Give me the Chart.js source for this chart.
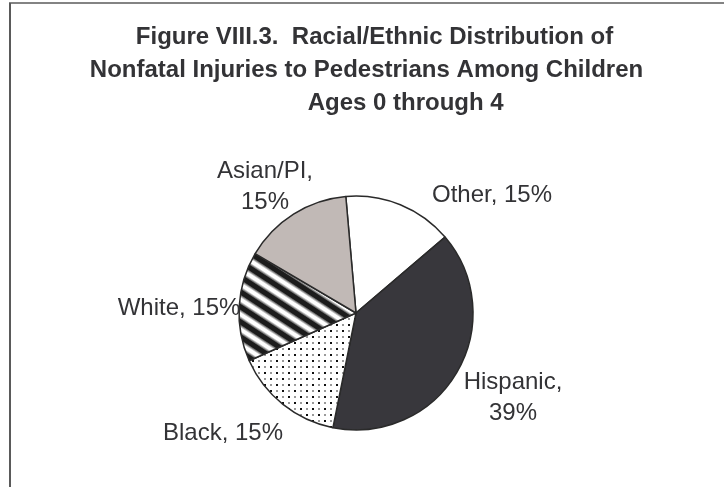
<!DOCTYPE html>
<html>
<head>
<meta charset="utf-8">
<script src="https://cdn.jsdelivr.net/npm/chart.js@4/dist/chart.umd.min.js"></script>
<style>
  html, body { margin: 0; padding: 0; background: #ffffff; }
  #wrap { width: 724px; height: 487px; position: relative; }
</style>
</head>
<body>
<div id="wrap"><canvas id="c" width="724" height="487"></canvas></div>
<script>
// ---- data ----
const categories = ["Other", "Hispanic", "Black", "White", "Asian/PI"];
const percentages = [15, 39, 15, 15, 15];
const labelLines = [
  ["Other, 15%"],
  ["Hispanic,", "39%"],
  ["Black, 15%"],
  ["White, 15%"],
  ["Asian/PI,", "15%"]
];
const titleLines = [
  "Figure VIII.3.  Racial/Ethnic Distribution of",
  "Nonfatal Injuries to Pedestrians Among Children",
  "Ages 0 through 4"
];

// ---- styling / layout ----
const TEXT = "#333336";
const titleLayout = [ {cx: 374.5, y: 44}, {cx: 366.5, y: 77}, {cx: 405.7, y: 110} ];
// label offsets relative to the pie centre (first-line baseline)
const labelOffsets = [
  {dx: 136, dy: -111},
  {dx: 157, dy: 76},
  {dx: -133, dy: 127},
  {dx: -177, dy: 2},
  {dx: -91, dy: -135}
];
const LABEL_LINE_H = 31;

const canvas = document.getElementById('c');
const ctx = canvas.getContext('2d');

function dotPattern() {
  const s = 12;
  const c = document.createElement('canvas'); c.width = s; c.height = s;
  const x = c.getContext('2d');
  x.fillStyle = '#ffffff'; x.fillRect(0, 0, s, s);
  x.fillStyle = '#111111';
  x.fillRect(0, 0, 2, 2); x.fillRect(6, 6, 2, 2);
  x.fillStyle = '#9a9a9a';
  x.fillRect(6, 0, 2, 2); x.fillRect(0, 6, 2, 2);
  return ctx.createPattern(c, 'repeat');
}
function stripePattern() {
  const W = 23, H = 15;
  const c = document.createElement('canvas'); c.width = W; c.height = H;
  const x = c.getContext('2d');
  x.fillStyle = '#ffffff'; x.fillRect(0, 0, W, H);
  const passes = [[9, 'rgba(40,40,40,0.3)'], [7, 'rgba(40,40,40,0.45)'], [5, '#1c1c1c']];
  for (const [lw, col] of passes) {
    x.strokeStyle = col; x.lineWidth = lw;
    for (let k = -3; k <= 3; k++) {
      x.beginPath();
      x.moveTo(-W, -H + k * H);
      x.lineTo(2 * W, 2 * H + k * H);
      x.stroke();
    }
  }
  return ctx.createPattern(c, 'repeat');
}

const fills = ['#ffffff', '#38373c', dotPattern(), stripePattern(), '#c1b9b6'];

const framePlugin = {
  id: 'frame',
  beforeDraw(chart) {
    const c = chart.ctx;
    c.save();
    c.fillStyle = '#ffffff';
    c.fillRect(0, 0, chart.width, chart.height);
    c.strokeStyle = '#5a5a5a';
    c.lineWidth = 2;
    c.beginPath(); c.moveTo(10, 487); c.lineTo(10, 3); c.stroke();
    c.lineWidth = 1.5;
    c.beginPath(); c.moveTo(9, 3); c.lineTo(724, 3); c.stroke();
    c.restore();
  }
};

const titlePlugin = {
  id: 'multiTitle',
  afterDraw(chart) {
    const c = chart.ctx;
    c.save();
    c.fillStyle = TEXT;
    c.font = 'bold 24px "Liberation Sans", Arial, sans-serif';
    c.textAlign = 'center';
    c.textBaseline = 'alphabetic';
    titleLines.forEach((t, i) => c.fillText(t, titleLayout[i].cx, titleLayout[i].y));
    c.restore();
  }
};

const labelPlugin = {
  id: 'sliceLabels',
  afterDatasetsDraw(chart) {
    const meta = chart.getDatasetMeta(0);
    const c = chart.ctx;
    c.save();
    c.fillStyle = TEXT;
    c.font = '24px "Liberation Sans", Arial, sans-serif';
    c.textAlign = 'center';
    c.textBaseline = 'alphabetic';
    meta.data.forEach((arc, i) => {
      const off = labelOffsets[i];
      labelLines[i].forEach((ln, j) => {
        c.fillText(ln, arc.x + off.dx, arc.y + off.dy + j * LABEL_LINE_H);
      });
    });
    c.restore();
  }
};

new Chart(canvas, {
  type: 'pie',
  data: {
    labels: categories,
    datasets: [{
      data: percentages,
      backgroundColor: fills,
      borderColor: '#2a2a2a',
      borderWidth: 1.5,
      borderAlign: 'center'
    }]
  },
  options: {
    responsive: false,
    animation: false,
    devicePixelRatio: 1,
    rotation: -5,
    radius: 117,
    layout: { padding: { left: 0, right: 12, top: 139, bottom: 0 } },
    plugins: {
      legend: { display: false },
      tooltip: { enabled: false },
      title: { display: false }
    }
  },
  plugins: [framePlugin, titlePlugin, labelPlugin]
});
</script>
</body>
</html>
